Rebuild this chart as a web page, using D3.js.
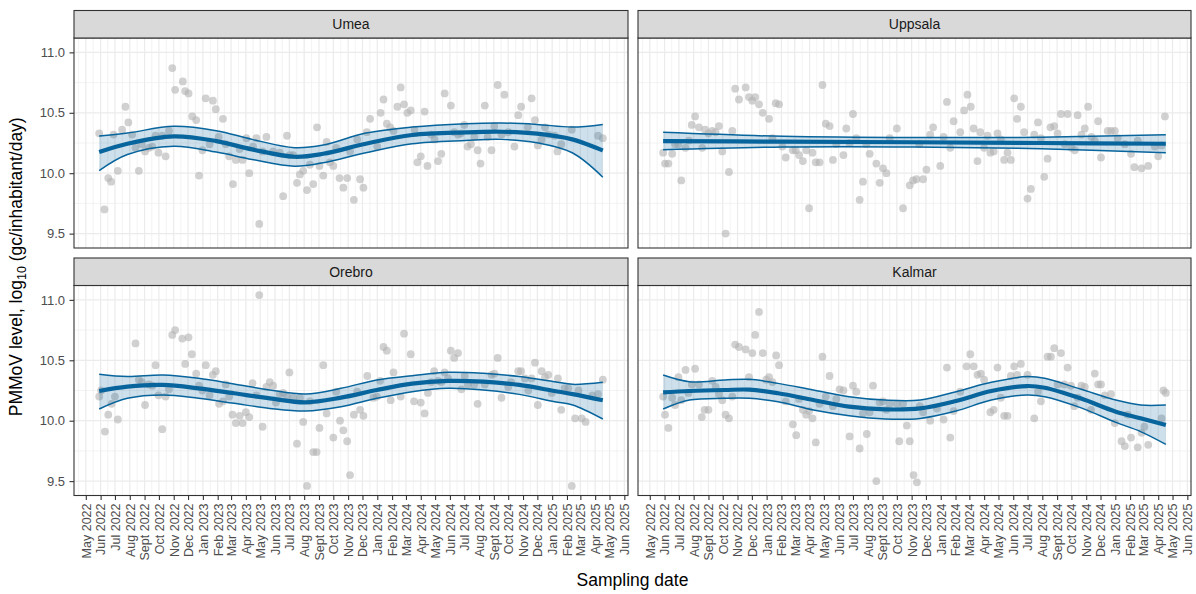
<!DOCTYPE html>
<html>
<head>
<meta charset="utf-8">
<script src="https://cdn.jsdelivr.net/npm/d3@7"></script>
<style>
	body { margin: 0; background: #fff; }
	svg { display: block; font-family: "Liberation Sans", Arial, sans-serif; }
</style>
</head>
<body>
<svg id="chart" width="1196" height="594"></svg>
<script>
// sampling day = days after 1 May 2022, value = log10 PMMoV level
const baseDate = new Date(2022, 4, 1);
const sites = ["Umea", "Uppsala", "Orebro", "Kalmar"];
const monthLabels = ["Jan", "Feb", "Mar", "Apr", "May", "Jun", "Jul", "Aug", "Sept", "Oct", "Nov", "Dec"];
const yTicks = [9.5, 10.0, 10.5, 11.0];

const umea = [[28,10.33],[39,9.70],[47,9.96],[53,9.93],[58,10.32],[67,10.02],[76,10.36],[83,10.55],[89,10.42],[97,10.32],
	[104,10.21],[111,10.02],[117,10.24],[124,10.18],[132,10.21],[139,10.22],[146,10.31],[152,10.17],[160,10.31],[167,10.14],
	[174,10.35],[181,10.87],[187,10.69],[203,10.76],[208,10.68],[215,10.66],[223,10.47],[231,10.44],[237,9.98],[244,10.19],
	[251,10.62],[259,10.24],[266,10.60],[272,10.53],[278,10.30],[287,10.45],[293,10.24],[300,10.14],[308,9.91],[314,10.11],
	[322,10.20],[328,10.11],[336,10.29],[342,10.00],[350,10.22],[357,10.29],[363,9.58],[370,10.18],[378,10.30],[392,10.18],
	[406,10.17],[413,9.81],[421,10.31],[427,10.15],[434,10.15],[442,9.92],[448,9.99],[455,10.02],[463,9.86],[469,10.07],
	[476,9.91],[484,10.38],[489,10.06],[497,9.98],[504,10.26],[511,10.09],[518,10.06],[524,10.21],[531,9.96],[539,9.88],
	[547,9.96],[553,10.18],[561,9.78],[568,10.28],[574,9.95],[581,9.88],[588,10.34],[595,10.45],[610,10.22],[617,10.50],
	[623,10.61],[630,10.41],[637,10.38],[644,10.35],[652,10.55],[659,10.71],[666,10.57],[673,10.50],[680,10.52],[688,10.36],
	[694,10.09],[701,10.14],[709,10.51],[715,10.06],[723,10.32],[730,10.28],[737,10.10],[744,10.16],[751,10.66],[764,10.56],
	[771,10.34],[779,10.32],[785,10.33],[792,10.40],[799,10.22],[806,10.24],[813,10.30],[820,10.19],[826,10.08],[835,10.56],
	[841,10.30],[849,10.19],[855,10.39],[862,10.73],[870,10.32],[876,10.65],[884,10.34],[897,10.22],[905,10.48],[911,10.55],
	[925,10.38],[933,10.62],[940,10.44],[946,10.23],[954,10.28],[961,10.38],[968,10.32],[981,10.31],[987,10.18],[995,10.24],
	[1017,10.36],[1072,10.31],[1082,10.29]];

const uppsala = [[28,10.17],[32,10.08],[39,10.08],[47,10.16],[53,10.24],[60,10.24],[66,9.94],[75,10.21],[82,10.27],[88,10.40],
	[95,10.47],[103,10.38],[110,10.21],[116,10.36],[123,10.33],[131,10.35],[138,10.34],[145,10.39],[152,10.18],[159,9.50],
	[166,10.01],[173,10.35],[179,10.70],[187,10.61],[201,10.71],[208,10.63],[215,10.60],[221,10.63],[229,10.57],[237,10.50],
	[250,10.45],[257,10.29],[264,10.58],[271,10.57],[278,10.22],[285,10.13],[300,10.19],[306,10.19],[313,10.15],[321,10.10],
	[328,10.19],[334,9.71],[341,10.17],[348,10.09],[356,10.09],[362,10.73],[369,10.41],[377,10.39],[384,10.11],[391,10.24],
	[406,10.15],[412,10.37],[419,10.25],[426,10.49],[433,10.29],[440,9.78],[447,9.93],[454,10.24],[461,10.16],[475,10.08],
	[482,9.92],[489,10.04],[496,10.00],[503,10.29],[518,10.37],[531,9.71],[545,9.90],[552,9.94],[559,9.95],[565,10.24],
	[573,9.95],[580,10.03],[588,10.32],[594,10.38],[609,10.06],[616,10.30],[623,10.59],[630,10.21],[637,10.43],[651,10.34],
	[659,10.52],[666,10.65],[673,10.55],[679,10.37],[687,10.10],[693,10.34],[701,10.21],[708,10.31],[714,10.17],[721,10.18],
	[729,10.33],[736,10.28],[743,10.11],[750,10.17],[757,10.11],[764,10.62],[770,10.45],[778,10.55],[785,10.34],[792,9.79],
	[799,9.87],[806,10.32],[814,10.42],[820,10.29],[827,9.97],[834,10.12],[840,10.38],[848,10.39],[855,10.33],[862,10.49],
	[870,10.24],[876,10.49],[884,10.21],[891,10.19],[897,10.48],[905,10.32],[912,10.37],[919,10.55],[926,10.30],[933,10.27],
	[940,10.43],[946,10.13],[960,10.35],[967,10.35],[975,10.35],[981,10.29],[996,10.24],[1009,10.16],[1016,10.05],[1023,10.27],
	[1031,10.04],[1045,10.06],[1059,10.22],[1066,10.14],[1073,10.23],[1080,10.47]];

const orebro = [[28,10.20],[32,10.25],[40,9.91],[47,10.05],[54,10.14],[61,10.20],[67,10.01],[104,10.64],[111,10.34],[117,10.32],
	[124,10.13],[132,10.30],[139,10.29],[146,10.46],[152,10.21],[160,9.93],[167,10.20],[174,10.26],[181,10.71],[187,10.75],
	[202,10.68],[208,10.47],[215,10.69],[222,10.55],[231,10.39],[237,10.29],[244,10.25],[251,10.46],[259,10.21],[266,10.38],
	[272,10.41],[279,10.14],[287,10.16],[293,10.30],[300,10.20],[307,10.05],[314,9.98],[322,10.04],[328,9.98],[335,10.07],
	[342,10.03],[349,10.31],[357,10.21],[363,11.04],[370,9.95],[378,10.28],[385,10.32],[392,10.29],[398,10.15],[406,10.22],
	[413,10.23],[421,10.20],[426,10.40],[434,10.19],[442,9.81],[448,10.19],[455,9.99],[463,9.46],[469,10.16],[476,9.74],
	[483,9.74],[489,9.94],[497,10.46],[504,10.06],[518,9.86],[524,10.24],[532,10.00],[539,9.92],[547,9.83],[553,9.55],
	[561,10.05],[568,10.24],[574,10.09],[581,10.04],[589,10.37],[602,10.19],[609,10.20],[616,10.33],[623,10.61],[630,10.58],
	[638,10.17],[644,10.40],[659,10.20],[666,10.72],[680,10.55],[687,10.16],[701,10.15],[709,10.06],[716,10.23],[723,10.32],
	[729,10.41],[737,10.33],[744,10.32],[751,10.40],[758,10.35],[764,10.58],[771,10.52],[779,10.56],[786,10.26],[793,10.37],
	[800,10.30],[813,10.30],[820,10.14],[835,10.30],[849,10.38],[855,10.39],[862,10.52],[870,10.19],[884,10.28],[890,10.32],
	[905,10.41],[911,10.41],[919,10.35],[926,10.25],[933,10.35],[940,10.48],[946,10.13],[954,10.41],[961,10.36],[968,10.38],
	[975,10.23],[988,10.35],[995,10.09],[1002,10.27],[1010,10.27],[1017,9.46],[1024,10.02],[1031,10.25],[1038,10.02],[1046,9.99],
	[1060,10.21],[1072,10.22],[1082,10.34]];

const kalmar = [[28,10.20],[32,10.05],[39,9.94],[47,10.19],[53,10.13],[60,10.36],[66,10.17],[75,10.42],[81,10.23],[88,10.30],
	[95,10.43],[103,10.30],[109,10.03],[115,10.09],[123,10.09],[131,10.33],[138,10.28],[145,10.22],[152,10.17],[159,10.05],
	[166,10.02],[173,10.20],[179,10.63],[187,10.61],[201,10.59],[208,10.36],[215,10.56],[221,10.71],[229,10.90],[237,10.56],
	[244,10.34],[250,10.36],[257,10.32],[265,10.54],[271,10.46],[285,10.16],[300,9.97],[307,9.88],[313,10.18],[321,10.09],
	[328,10.05],[334,10.08],[341,10.02],[348,9.82],[356,10.14],[362,10.53],[369,10.20],[377,10.37],[384,10.12],[391,10.18],
	[398,10.26],[406,10.25],[419,9.87],[426,10.29],[433,10.24],[440,9.77],[447,10.06],[455,9.89],[461,10.07],[468,10.29],
	[475,9.50],[482,10.15],[489,10.16],[496,10.09],[503,10.14],[518,10.14],[523,9.83],[531,10.14],[539,9.96],[545,9.83],
	[553,9.55],[560,9.49],[566,10.12],[573,10.07],[588,10.00],[602,10.10],[616,10.01],[623,10.44],[630,9.86],[637,10.08],
	[651,10.24],[664,10.45],[672,10.55],[679,10.45],[687,10.38],[694,10.39],[701,10.34],[714,10.07],[721,10.09],[729,10.44],
	[736,10.19],[743,10.04],[750,10.04],[757,10.37],[764,10.45],[770,10.38],[778,10.47],[792,10.38],[806,10.02],[814,10.24],
	[820,10.16],[834,10.53],[841,10.53],[848,10.60],[855,10.30],[862,10.56],[869,10.30],[876,10.44],[883,10.29],[890,10.12],
	[897,10.19],[905,10.29],[912,10.28],[925,10.09],[933,10.39],[940,10.30],[946,10.30],[954,10.21],[967,10.22],[975,9.98],
	[989,9.83],[996,9.79],[1002,10.05],[1009,9.86],[1023,9.78],[1031,9.90],[1037,9.95],[1045,9.80],[1073,10.02],[1077,10.25],
	[1082,10.23]];

// fitted smooth with confidence band, read at a few days
const umeaSmoothDays = [28, 87, 184, 273, 348, 437, 497, 586, 683, 795, 869, 944, 1018, 1082];
const umeaFit   = [10.175, 10.244, 10.305, 10.266, 10.197, 10.136, 10.161, 10.244, 10.316, 10.338, 10.343, 10.327, 10.280, 10.188];
const umeaUpper = [10.307, 10.332, 10.388, 10.352, 10.280, 10.211, 10.233, 10.332, 10.382, 10.410, 10.416, 10.404, 10.382, 10.404];
const umeaLower = [10.022, 10.155, 10.224, 10.175, 10.114, 10.058, 10.086, 10.169, 10.244, 10.271, 10.280, 10.252, 10.169, 9.967];

const uppsalaSmoothDays = [28, 280, 555, 820, 1082];
const uppsalaFit   = [10.266, 10.261, 10.256, 10.250, 10.244];
const uppsalaUpper = [10.338, 10.305, 10.295, 10.298, 10.319];
const uppsalaLower = [10.194, 10.217, 10.217, 10.202, 10.169];

const orebroSmoothDays = [28, 87, 161, 236, 310, 385, 460, 534, 609, 683, 758, 832, 907, 981, 1019, 1082];
const orebroFit   = [10.246, 10.282, 10.296, 10.268, 10.227, 10.185, 10.152, 10.191, 10.254, 10.307, 10.329, 10.323, 10.296, 10.246, 10.220, 10.169];
const orebroUpper = [10.384, 10.365, 10.378, 10.351, 10.304, 10.254, 10.221, 10.268, 10.337, 10.373, 10.401, 10.392, 10.365, 10.323, 10.301, 10.318];
const orebroLower = [10.097, 10.185, 10.213, 10.185, 10.144, 10.102, 10.080, 10.116, 10.185, 10.240, 10.268, 10.254, 10.218, 10.157, 10.130, 10.014];

const kalmarSmoothDays = [28, 83, 157, 209, 269, 343, 418, 493, 567, 642, 716, 791, 828, 903, 977, 1029, 1082];
const kalmarFit   = [10.235, 10.246, 10.254, 10.257, 10.227, 10.171, 10.116, 10.094, 10.102, 10.163, 10.246, 10.287, 10.273, 10.185, 10.075, 10.020, 9.964];
const kalmarUpper = [10.378, 10.323, 10.337, 10.343, 10.309, 10.254, 10.199, 10.171, 10.171, 10.240, 10.318, 10.365, 10.351, 10.262, 10.171, 10.130, 10.130];
const kalmarLower = [10.097, 10.171, 10.185, 10.185, 10.157, 10.088, 10.041, 10.014, 10.019, 10.080, 10.171, 10.213, 10.199, 10.108, 9.986, 9.910, 9.804];

const panels = [
	{ name: sites[0], pts: umea, days: umeaSmoothDays, fit: umeaFit, upper: umeaUpper, lower: umeaLower },
	{ name: sites[1], pts: uppsala, days: uppsalaSmoothDays, fit: uppsalaFit, upper: uppsalaUpper, lower: uppsalaLower },
	{ name: sites[2], pts: orebro, days: orebroSmoothDays, fit: orebroFit, upper: orebroUpper, lower: orebroLower },
	{ name: sites[3], pts: kalmar, days: kalmarSmoothDays, fit: kalmarFit, upper: kalmarUpper, lower: kalmarLower }
];

const blue = "#07649c";
const cols = [{ x0: 74, x1: 628 }, { x0: 638, x1: 1191 }];
const rows = [{ s0: 10.5, p0: 38, p1: 248 }, { s0: 258, p0: 285.5, p1: 495.5 }];

const toDate = (d) => d3.timeDay.offset(baseDate, d);

// shared scales domains, expanded by 5% like ggplot
const allDates = panels.flatMap(p => p.pts.map(d => toDate(d[0])));
const dExt = d3.extent(allDates);
const dPad = (dExt[1] - dExt[0]) * 0.05;
const xDomain = [new Date(+dExt[0] - dPad), new Date(+dExt[1] + dPad)];
const vExt = d3.extent(panels.flatMap(p => p.pts.map(d => d[1])));
const vPad = (vExt[1] - vExt[0]) * 0.05;
const yDomain = [vExt[0] - vPad, vExt[1] + vPad];

const monthTicks = d3.timeMonth.range(new Date(2022, 4, 1), new Date(2025, 5, 2));
const allMonths = d3.timeMonth.range(new Date(2022, 3, 1), new Date(2025, 6, 2));
const minorX = d3.pairs(allMonths).map(([a, b]) => new Date((+a + +b) / 2));
const minorY = d3.pairs(yTicks).map(([a, b]) => (a + b) / 2);

const svg = d3.select("#chart");

panels.forEach((p, i) => {
	const c = cols[i % 2], r = rows[Math.floor(i / 2)];
	const x = d3.scaleTime().domain(xDomain).range([c.x0, c.x1]);
	const y = d3.scaleLinear().domain(yDomain).range([r.p1, r.p0]);
	const inX = (d) => x(d) >= c.x0 && x(d) <= c.x1;
	const g = svg.append("g");

	// grid
	g.selectAll(".minx").data(minorX.filter(inX)).enter().append("line")
		.attr("x1", d => x(d)).attr("x2", d => x(d)).attr("y1", r.p0).attr("y2", r.p1)
		.attr("stroke", "#ebebeb").attr("stroke-width", 0.6);
	g.selectAll(".miny").data(minorY).enter().append("line")
		.attr("x1", c.x0).attr("x2", c.x1).attr("y1", d => y(d)).attr("y2", d => y(d))
		.attr("stroke", "#ebebeb").attr("stroke-width", 0.6);
	g.selectAll(".majx").data(monthTicks.filter(inX)).enter().append("line")
		.attr("x1", d => x(d)).attr("x2", d => x(d)).attr("y1", r.p0).attr("y2", r.p1)
		.attr("stroke", "#ebebeb").attr("stroke-width", 1.2);
	g.selectAll(".majy").data(yTicks).enter().append("line")
		.attr("x1", c.x0).attr("x2", c.x1).attr("y1", d => y(d)).attr("y2", d => y(d))
		.attr("stroke", "#ebebeb").attr("stroke-width", 1.2);

	// points
	g.selectAll(".pt").data(p.pts).enter().append("circle")
		.attr("cx", d => x(toDate(d[0]))).attr("cy", d => y(d[1])).attr("r", 3.9)
		.attr("fill", "#b3b3b3").attr("fill-opacity", 0.6);

	// smooth
	const sm = p.days.map((d, k) => ({ date: toDate(d), fit: p.fit[k], hi: p.upper[k], lo: p.lower[k] }));
	const curve = d3.curveCatmullRom.alpha(0.5);
	g.append("path").datum(sm)
		.attr("d", d3.area().x(d => x(d.date)).y0(d => y(d.lo)).y1(d => y(d.hi)).curve(curve))
		.attr("fill", blue).attr("fill-opacity", 0.2);
	["hi", "lo"].forEach(k => {
		g.append("path").datum(sm)
			.attr("d", d3.line().x(d => x(d.date)).y(d => y(d[k])).curve(curve))
			.attr("fill", "none").attr("stroke", blue).attr("stroke-width", 1.5);
	});
	g.append("path").datum(sm)
		.attr("d", d3.line().x(d => x(d.date)).y(d => y(d.fit)).curve(curve))
		.attr("fill", "none").attr("stroke", blue).attr("stroke-width", 4.2);

	// panel border and strip
	g.append("rect").attr("x", c.x0).attr("y", r.p0).attr("width", c.x1 - c.x0).attr("height", r.p1 - r.p0)
		.attr("fill", "none").attr("stroke", "#333").attr("stroke-width", 1.1);
	g.append("rect").attr("x", c.x0).attr("y", r.s0).attr("width", c.x1 - c.x0).attr("height", r.p0 - r.s0)
		.attr("fill", "#d9d9d9").attr("stroke", "#333").attr("stroke-width", 1.1);
	g.append("text").attr("x", (c.x0 + c.x1) / 2).attr("y", (r.s0 + r.p0) / 2).attr("dy", "0.35em")
		.attr("text-anchor", "middle").attr("font-size", 14).attr("fill", "#1a1a1a").text(p.name);

	// y axis on left column
	if (i % 2 == 0) {
		const yAxis = g.append("g").attr("transform", `translate(${c.x0},0)`)
			.call(d3.axisLeft(y).tickValues(yTicks).tickFormat(d3.format(".1f")).tickSize(4.5).tickPadding(4.5));
		yAxis.select(".domain").remove();
		yAxis.selectAll(".tick line").attr("stroke", "#333").attr("stroke-width", 1.1);
		yAxis.selectAll(".tick text").attr("font-size", 13).attr("fill", "#4d4d4d").attr("font-family", null);
	}
	// x axis on bottom row
	if (i >= 2) {
		const xAxis = g.append("g").attr("transform", `translate(0,${r.p1})`)
			.call(d3.axisBottom(x).tickValues(monthTicks).tickSize(4.5)
				.tickFormat(d => monthLabels[d.getMonth()] + " " + d.getFullYear()));
		xAxis.select(".domain").remove();
		xAxis.selectAll(".tick line").attr("stroke", "#333").attr("stroke-width", 1.1);
		xAxis.selectAll(".tick text")
			.attr("transform", "rotate(-90)").attr("x", -8).attr("y", 0).attr("dy", "0.35em")
			.attr("text-anchor", "end").attr("font-size", 12.5).attr("fill", "#4d4d4d").attr("font-family", null);
	}
});

// axis titles
svg.append("text").attr("x", (cols[0].x0 + cols[1].x1) / 2).attr("y", 586)
	.attr("text-anchor", "middle").attr("font-size", 17.5).attr("fill", "#000").text("Sampling date");

const yTitle = svg.append("text").attr("transform", `translate(22,${(rows[0].p0 + rows[1].p1) / 2}) rotate(-90)`)
	.attr("text-anchor", "middle").attr("font-size", 17.5).attr("fill", "#000");
yTitle.append("tspan").text("PMMoV level, log");
yTitle.append("tspan").attr("font-size", 12.5).attr("dy", 4).text("10");
yTitle.append("tspan").attr("dy", -4).text(" (gc/inhabitant/day)");
</script>
</body>
</html>
